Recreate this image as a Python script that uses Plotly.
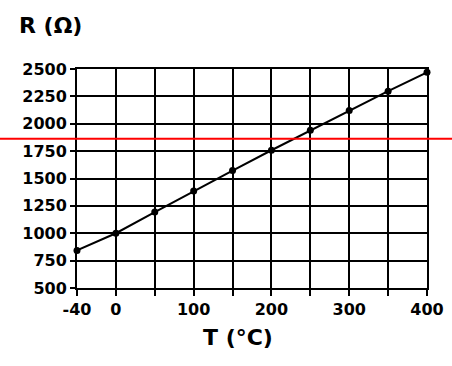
import plotly.graph_objects as go

temps = ["-40", "0", "50", "100", "150", "200", "250", "300", "350", "400"]
resistance = [843, 1000, 1194, 1385, 1573, 1758, 1940, 2120, 2297, 2470]
x_tick_text = ["-40", "0", "", "100", "", "200", "", "300", "", "400"]
y_ticks = [500, 750, 1000, 1250, 1500, 1750, 2000, 2250, 2500]
ref_level = 1864

FONT = "DejaVu Sans"
L, R, T, B = 77, 25, 69, 78
PW, PH = 452 - L - R, 366 - T - B

fig = go.Figure()
fig.add_trace(go.Scatter(
    x=temps, y=resistance, mode="lines+markers",
    line=dict(color="black", width=2),
    marker=dict(color="black", size=7),
    cliponaxis=False, showlegend=False, hoverinfo="skip",
))

fig.update_layout(
    width=452, height=366,
    margin=dict(l=L, r=R, t=T, b=B, autoexpand=False),
    paper_bgcolor="white", plot_bgcolor="white",
    font=dict(family=FONT, color="black"),
    xaxis=dict(
        type="category", range=[0, 9], automargin=False,
        tickmode="array", tickvals=temps, ticktext=x_tick_text,
        showgrid=True, gridcolor="black", gridwidth=2,
        showline=True, linecolor="black", linewidth=2, mirror=True,
        ticks="outside", ticklen=6, tickwidth=2, tickcolor="black",
        tickfont=dict(family=FONT, size=16, color="black", weight="bold"),
        zeroline=False,
    ),
    yaxis=dict(
        range=[500, 2500], tickvals=y_ticks, automargin=False,
        showgrid=True, gridcolor="black", gridwidth=2,
        showline=True, linecolor="black", linewidth=2, mirror=True,
        ticks="outside", ticklen=5, tickwidth=2, tickcolor="black",
        tickfont=dict(family=FONT, size=16, color="black", weight="bold"),
        zeroline=False,
    ),
    shapes=[dict(
        type="line", xref="paper", yref="y",
        x0=-0.3, x1=1.2, y0=ref_level, y1=ref_level,
        line=dict(color="red", width=2), layer="above",
    )],
    annotations=[
        dict(text="<b>R (Ω)</b>", xref="paper", yref="paper",
             x=(17 - L) / PW, y=((366 - B) - 25) / PH, xanchor="left", yanchor="middle",
             showarrow=False, font=dict(family=FONT, size=22, color="black")),
        dict(text="<b>T (°C)</b>", xref="paper", yref="paper",
             x=(238 - L) / PW, y=-(337 - (366 - B)) / PH, xanchor="center", yanchor="middle",
             showarrow=False, font=dict(family=FONT, size=22, color="black")),
    ],
)

fig.write_html(
    "out.html",
    config={"displayModeBar": False},
    post_script="document.body.style.margin='0';document.body.style.overflow='hidden';",
)
